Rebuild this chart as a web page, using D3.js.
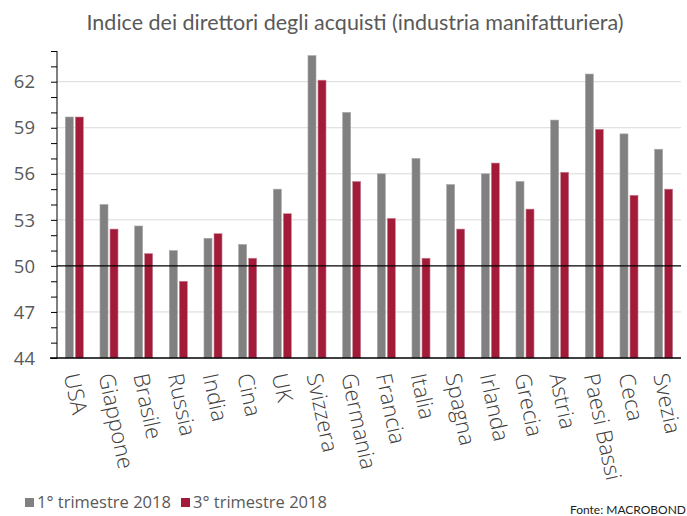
<!DOCTYPE html>
<html>
<head>
<meta charset="utf-8">
<script src="https://cdn.jsdelivr.net/npm/d3@7"></script>
<style>
  body { margin: 0; background: #fff; }
</style>
</head>
<body>
<div id="chart"></div>
<script>
var countries = ["USA", "Giappone", "Brasile", "Russia", "India", "Cina", "UK", "Svizzera", "Germania",
    "Francia", "Italia", "Spagna", "Irlanda", "Grecia", "Astria", "Paesi Bassi", "Ceca", "Svezia"];
var q1 = [59.7, 54.0, 52.6, 51.0, 51.8, 51.4, 55.0, 63.7, 60.0, 56.0, 57.0, 55.3, 56.0, 55.5, 59.5, 62.5, 58.6, 57.6];
var q3 = [59.7, 52.4, 50.8, 49.0, 52.1, 50.5, 53.4, 62.1, 55.5, 53.1, 50.5, 52.4, 56.7, 53.7, 56.1, 58.9, 54.6, 55.0];
var seriesNames = ["1° trimestre 2018", "3° trimestre 2018"];
var yTicks = [44, 47, 50, 53, 56, 59, 62];

var width = 687, height = 516;
var plotLeft = 57, plotRight = 681, plotTop = 51, plotBottom = 358;

var data = countries.map(function(c, i) {
    return { country: c, values: [q1[i], q3[i]] };
});

var svg = d3.select("#chart")
    .append("svg")
    .attr("width", width)
    .attr("height", height);

var x0 = d3.scaleBand()
    .domain(countries)
    .range([plotLeft, plotRight])
    .paddingInner(0.48)
    .paddingOuter(0.24);

var x1 = d3.scaleBand()
    .domain([0, 1])
    .range([0, x0.bandwidth()])
    .paddingInner(0.2);

var y = d3.scaleLinear()
    .domain([44, 64])
    .range([plotBottom, plotTop]);

var color = d3.scaleOrdinal()
    .domain([0, 1])
    .range(["#808080", "#a21c3a"]);

// gridlines
svg.append("g")
    .selectAll("line")
    .data(yTicks.filter(function(d) { return d !== 44 && d !== 50; }))
    .enter().append("line")
    .attr("x1", plotLeft)
    .attr("x2", plotRight)
    .attr("y1", function(d) { return y(d); })
    .attr("y2", function(d) { return y(d); })
    .attr("stroke", "#d9d9d9")
    .attr("stroke-width", 1);

// bars
var groups = svg.append("g")
    .selectAll("g")
    .data(data)
    .enter().append("g")
    .attr("transform", function(d) { return "translate(" + x0(d.country) + ",0)"; });

groups.selectAll("rect")
    .data(function(d) { return d.values; })
    .enter().append("rect")
    .attr("x", function(d, i) { return x1(i); })
    .attr("y", function(d) { return y(d); })
    .attr("width", x1.bandwidth())
    .attr("height", function(d) { return y(44) - y(d); })
    .attr("fill", function(d, i) { return color(i); })
    .attr("stroke", function(d, i) { return i === 0 ? "#a8a8a8" : "#c98394"; })
    .attr("stroke-width", 0.6);

// 50 line
svg.append("line")
    .attr("x1", plotLeft)
    .attr("x2", plotRight)
    .attr("y1", y(50))
    .attr("y2", y(50))
    .attr("stroke", "#000")
    .attr("stroke-width", 1.2);

// y axis
var yAxis = svg.append("g")
    .attr("transform", "translate(" + plotLeft + ",0)")
    .call(d3.axisLeft(y).tickValues(d3.range(44, 65, 1)).tickSize(6).tickFormat(""));
yAxis.select("path.domain").attr("stroke", "#000").attr("d", "M0," + y(64) + "V" + y(44));
yAxis.selectAll(".tick line").attr("stroke", "#000");

svg.append("g")
    .selectAll("text")
    .data(yTicks)
    .enter().append("text")
    .attr("x", 35)
    .attr("y", function(d) { return y(d); })
    .attr("dy", "0.36em")
    .attr("text-anchor", "end")
    .style("font-family", "'Open Sans', sans-serif")
    .style("font-size", "18.5px")
    .attr("fill", "#595959")
    .text(function(d) { return d; });

// x axis line
svg.append("line")
    .attr("x1", 50)
    .attr("x2", plotRight)
    .attr("y1", plotBottom)
    .attr("y2", plotBottom)
    .attr("stroke", "#000")
    .attr("stroke-width", 1.5);

// category labels
svg.append("g")
    .selectAll("text")
    .data(countries)
    .enter().append("text")
    .attr("transform", function(d) {
        return "translate(" + (x0(d) + x0.bandwidth() / 2 - 4) + "," + (plotBottom + 16) + ") rotate(78)";
    })
    .attr("dy", "0.3em")
    .attr("text-anchor", "start")
    .style("font-family", "'Open Sans', sans-serif")
    .style("font-weight", 300)
    .style("font-size", "22px")
    .attr("fill", "#404040")
    .text(function(d) { return d; });

// title
svg.append("text")
    .attr("x", 355)
    .attr("y", 30)
    .attr("text-anchor", "middle")
    .style("font-family", "Lato, sans-serif")
    .style("font-size", "21.5px")
    .attr("fill", "#595959")
    .text("Indice dei direttori degli acquisti (industria manifatturiera)");

// legend
var legendX = [25, 181];
var legend = svg.append("g")
    .selectAll("g")
    .data(seriesNames)
    .enter().append("g")
    .attr("transform", function(d, i) { return "translate(" + legendX[i] + ",498)"; });

legend.append("rect")
    .attr("width", 9)
    .attr("height", 9)
    .attr("fill", function(d, i) { return color(i); });

legend.append("text")
    .attr("x", 12)
    .attr("y", 10)
    .style("font-family", "'Open Sans', sans-serif")
    .style("font-size", "16.5px")
    .attr("fill", "#595959")
    .text(function(d) { return d; });

svg.append("text")
    .attr("x", 686)
    .attr("y", 514)
    .attr("text-anchor", "end")
    .style("font-family", "Lato, sans-serif")
    .style("font-size", "12px")
    .attr("fill", "#222")
    .text("Fonte: MACROBOND");
</script>
</body>
</html>
